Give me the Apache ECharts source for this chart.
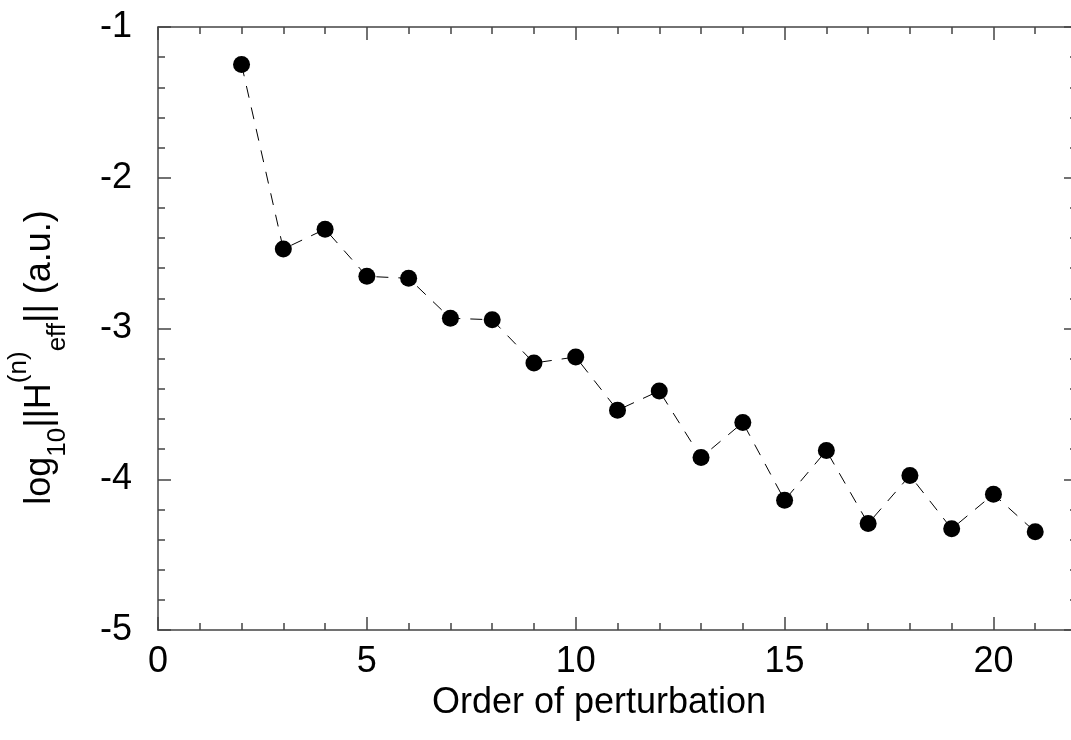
<!DOCTYPE html>
<html>
<head>
<meta charset="utf-8">
<script src="https://cdn.jsdelivr.net/npm/echarts@6/dist/echarts.min.js"></script>
<style>
html,body{margin:0;padding:0;background:#fff;}
#chart{width:1071px;height:740px;}
</style>
</head>
<body>
<div id="chart"></div>
<script>
const orders = [2,3,4,5,6,7,8,9,10,11,12,13,14,15,16,17,18,19,20,21];
const logNorm = [-1.249,-2.473,-2.341,-2.654,-2.667,-2.932,-2.942,-3.229,-3.189,-3.542,-3.414,-3.856,-3.624,-4.139,-3.810,-4.294,-3.975,-4.329,-4.099,-4.349];
const xTitle = 'Order of perturbation';

const chart = echarts.init(document.getElementById('chart'), null, {renderer:'canvas'});
const axisCol = '#444';
const font = 'Liberation Sans, Arial, sans-serif';
const commonX = {
  type:'value', min:0, max:22, interval:5,
  axisLine:{show:true, onZero:false, lineStyle:{color:axisCol, width:1.5}},
  axisTick:{show:true, inside:true, length:13, lineStyle:{color:axisCol, width:1.5}},
  minorTick:{show:true, splitNumber:5, length:7, lineStyle:{color:axisCol, width:1.5}},
  splitLine:{show:false}, minorSplitLine:{show:false}
};
const commonY = {
  type:'value', min:-5, max:-1, interval:1,
  axisLine:{show:true, onZero:false, lineStyle:{color:axisCol, width:1.5}},
  axisTick:{show:true, inside:true, length:13, lineStyle:{color:axisCol, width:1.5}},
  minorTick:{show:true, splitNumber:5, length:7, lineStyle:{color:axisCol, width:1.5}},
  splitLine:{show:false}, minorSplitLine:{show:false}
};
const option = {
  backgroundColor:'#fff',
  animation:false,
  grid:{left:158, top:27, right:-6, bottom:110, containLabel:false, outerBoundsMode:'none'},
  xAxis:[
    Object.assign({}, commonX, {
      position:'bottom',
      axisLabel:{show:true, fontSize:36, color:'#000', fontFamily:font, margin:14,
        formatter:v => (v % 5 === 0 && v <= 20) ? String(v) : ''},
      name:xTitle, nameLocation:'middle', nameGap:45,
      nameTextStyle:{fontSize:36, color:'#000', fontFamily:font, padding:[0,37,0,0]}
    }),
    Object.assign({}, commonX, {position:'top', axisLabel:{show:false}})
  ],
  yAxis:[
    Object.assign({}, commonY, {
      position:'left',
      axisLabel:{show:true, fontSize:36, color:'#000', fontFamily:font, margin:26},
      name:'{m|log}{sub|10}{m|||H}{sup|(n)}{sub|eff}{m||| (a.u.)}',
      nameLocation:'middle', nameGap:83, nameRotate:90,
      nameTextStyle:{
        color:'#000', fontFamily:font, fontSize:36, padding:[0,58,0,0],
        rich:{
          m:{fontSize:36, fontFamily:font, color:'#000', lineHeight:44},
          sub:{fontSize:26, fontFamily:font, color:'#000', padding:[35,0,0,0]},
          sup:{fontSize:26, fontFamily:font, color:'#000', padding:[0,0,43,0]}
        }
      }
    }),
    Object.assign({}, commonY, {position:'right', axisLabel:{show:false}})
  ],
  series:[{
    type:'line',
    xAxisIndex:0, yAxisIndex:0,
    data: orders.map((o,i)=>[o, logNorm[i]]),
    symbol:'circle', symbolSize:17,
    itemStyle:{color:'#000'},
    lineStyle:{color:'#000', width:1, type:[12,10]},
    clip:false
  }]
};
chart.setOption(option);
</script>
</body>
</html>
